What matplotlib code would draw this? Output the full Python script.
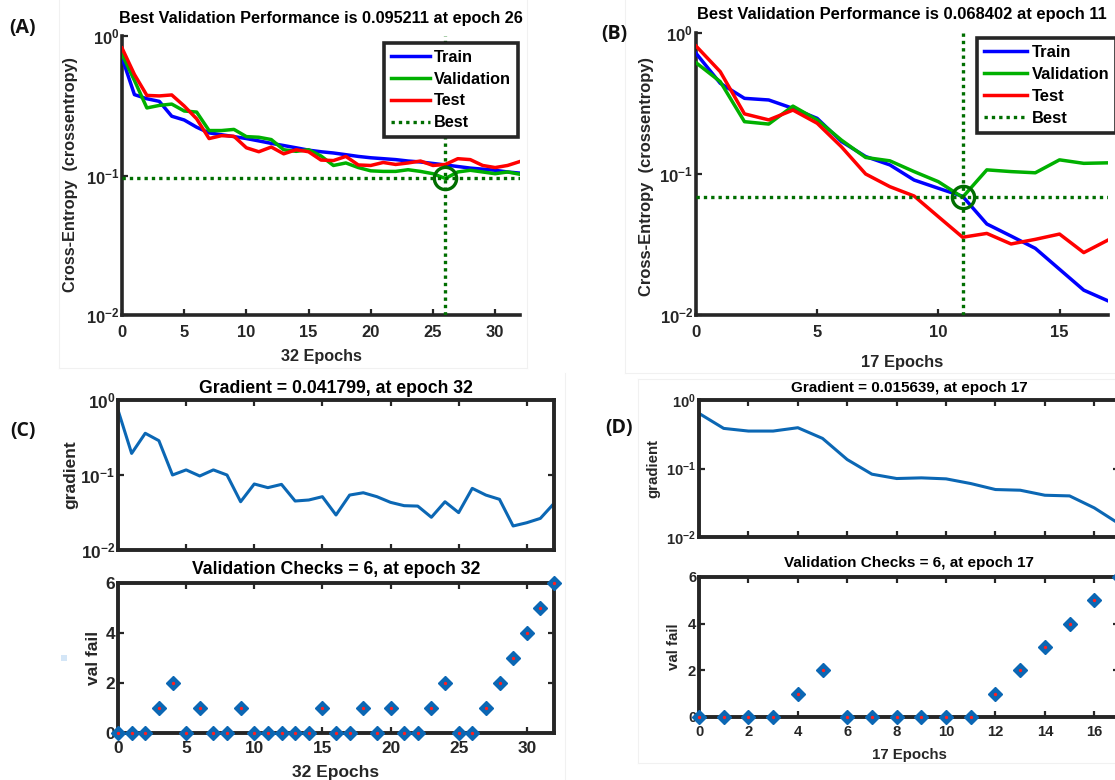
import numpy as np
import matplotlib
matplotlib.use("Agg")
import matplotlib.pyplot as plt
from matplotlib.lines import Line2D
from matplotlib.patches import Rectangle
from matplotlib.ticker import NullLocator

plt.rcParams.update({
    "font.family": ["Liberation Sans", "DejaVu Sans"],
    "font.weight": "bold",
    "axes.labelweight": "bold",
    "axes.titleweight": "bold",
    "mathtext.fontset": "custom",
    "mathtext.rm": "Liberation Sans:bold",
    "mathtext.it": "Liberation Sans:bold",
    "mathtext.bf": "Liberation Sans:bold",
    "mathtext.default": "rm",
})

# ---------------- data: run A (32 epochs) ----------------
train_a = [0.70, 0.38, 0.355, 0.34, 0.266, 0.25, 0.222, 0.202, 0.196, 0.190,
           0.184, 0.177, 0.170, 0.164, 0.158, 0.152, 0.148, 0.145, 0.141, 0.137,
           0.134, 0.132, 0.130, 0.127, 0.125, 0.122, 0.119, 0.116, 0.113, 0.111,
           0.109, 0.106, 0.104]
val_a = [0.74, 0.48, 0.305, 0.318, 0.325, 0.29, 0.285, 0.21, 0.21, 0.214,
         0.19, 0.188, 0.181, 0.153, 0.149, 0.153, 0.138, 0.118, 0.123, 0.114,
         0.108, 0.107, 0.107, 0.110, 0.107, 0.103, 0.095211, 0.106, 0.109, 0.106,
         0.103, 0.106, 0.102]
test_a = [0.82, 0.53, 0.375, 0.372, 0.378, 0.315, 0.255, 0.184, 0.193, 0.191,
          0.158, 0.148, 0.160, 0.143, 0.153, 0.148, 0.129, 0.128, 0.137, 0.119,
          0.118, 0.124, 0.120, 0.123, 0.127, 0.118, 0.120, 0.132, 0.130, 0.118,
          0.114, 0.118, 0.126]
best_epoch_a, best_val_a = 26, 0.095211

grad_c = [0.735, 0.194, 0.36, 0.287, 0.100, 0.117, 0.097, 0.117, 0.100, 0.044,
          0.0759, 0.0678, 0.075, 0.045, 0.0464, 0.0514, 0.0293, 0.054, 0.058, 0.0514,
          0.0432, 0.039, 0.0385, 0.0273, 0.044, 0.0315, 0.0664, 0.054, 0.0474, 0.0209,
          0.0231, 0.0264, 0.041799]
valfail_c = [0, 0, 0, 1, 2, 0, 1, 0, 0, 1, 0, 0, 0, 0, 0, 1, 0, 0, 1, 0,
             1, 0, 0, 1, 2, 0, 0, 1, 2, 3, 4, 5, 6]

# ---------------- data: run B (17 epochs) ----------------
train_b = [0.718, 0.44, 0.344, 0.335, 0.292, 0.248, 0.170, 0.133, 0.116, 0.0906,
           0.0792, 0.0695, 0.0442, 0.0363, 0.0297, 0.0211, 0.0150, 0.0126]
val_b = [0.616, 0.452, 0.235, 0.226, 0.303, 0.242, 0.174, 0.131, 0.124, 0.104,
         0.0882, 0.068402, 0.107, 0.104, 0.102, 0.126, 0.119, 0.120]
test_b = [0.809, 0.532, 0.267, 0.242, 0.284, 0.229, 0.156, 0.100, 0.0813, 0.0698,
          0.0498, 0.0356, 0.0379, 0.0319, 0.0344, 0.0375, 0.0277, 0.0340]
best_epoch_b, best_val_b = 11, 0.068402

grad_d = [0.638, 0.385, 0.352, 0.352, 0.394, 0.275, 0.135, 0.0826, 0.0714, 0.073,
          0.0706, 0.0603, 0.0493, 0.0482, 0.0407, 0.0398, 0.0266, 0.015639]
valfail_d = [0, 0, 0, 0, 1, 2, 0, 0, 0, 0, 0, 0, 1, 2, 3, 4, 5, 6]

log_ticks = [0.01, 0.1, 1.0]
log_labels = [r"$10^{-2}$", r"$10^{-1}$", r"$10^{0}$"]
vf_ticks = [0, 2, 4, 6]

C_TRAIN, C_VAL, C_TEST, C_BEST = "#0000ff", "#00b000", "#ff0000", "#006e00"
C_GRAD = "#0b67b4"
C_AX = "#262626"

W, H = 1115, 780
fig = plt.figure(figsize=(W / 100, H / 100), dpi=100)


def px_axes(b):
    x0, y0, x1, y1 = b
    return fig.add_axes([x0 / W, 1 - y1 / H, (x1 - x0) / W, (y1 - y0) / H])


def fx(b, x):
    return (x - b[0]) / (b[2] - b[0])


def fy(b, y):
    return (b[3] - y) / (b[3] - b[1])


def perf_panel(b, n, tr, va, te, be, bv, xticks, title, xlabel, title_y, xlabel_y,
               ylabel_x, ylabel_y, leg_anchor, fs, handle_len):
    ax = px_axes(b)
    ep = np.arange(len(tr))
    ax.plot(ep, tr, color=C_TRAIN, lw=2.5, label="Train", zorder=3)
    ax.plot(ep, va, color=C_VAL, lw=2.5, label="Validation", zorder=3)
    ax.plot(ep, te, color=C_TEST, lw=2.5, label="Test", zorder=3)
    ax.axhline(bv, color=C_BEST, lw=2.4, ls=(0, (1.0, 1.2)), label="Best", zorder=4)
    ax.axvline(be, color=C_BEST, lw=2.4, ls=(0, (1.0, 1.2)), zorder=4)
    ax.plot([be], [bv], "o", ms=16, mfc="none", mec=C_BEST, mew=2.4, zorder=5)
    ax.set_yscale("log")
    ax.set_xlim(0, n)
    ax.set_ylim(0.01, 1)
    ax.set_yticks(log_ticks)
    ax.set_yticklabels(log_labels)
    ax.yaxis.set_minor_locator(NullLocator())
    ax.set_xticks(xticks)
    for s in ("top", "right"):
        ax.spines[s].set_visible(False)
    for s in ("left", "bottom"):
        ax.spines[s].set_linewidth(2.6)
        ax.spines[s].set_color(C_AX)
    ax.tick_params(axis="both", direction="in", length=4, width=1.6, color=C_AX,
                   labelcolor=C_AX, labelsize=fs)
    ax.tick_params(axis="x", pad=7)
    ax.tick_params(axis="y", pad=2)
    ax.set_title(title, y=fy(b, title_y), va="center", pad=0, fontsize=fs - 0.2)
    ax.set_xlabel(xlabel, fontsize=fs - 0.2, color=C_AX)
    ax.xaxis.set_label_coords(fx(b, (b[0] + b[2]) / 2), fy(b, xlabel_y))
    ax.xaxis.label.set_va("center")
    ax.set_ylabel("Cross-Entropy  (crossentropy)", fontsize=fs - 0.2, color=C_AX)
    ax.yaxis.set_label_coords(fx(b, ylabel_x), fy(b, ylabel_y))
    ax.yaxis.label.set_va("center")
    leg = ax.legend(loc="upper right", bbox_to_anchor=leg_anchor, borderaxespad=0,
                    fontsize=fs - 0.2, handlelength=handle_len, handletextpad=0.25,
                    labelspacing=0.42, borderpad=0.42, fancybox=False, framealpha=1)
    leg.get_frame().set_edgecolor(C_AX)
    leg.get_frame().set_linewidth(2.6)
    leg.set_zorder(10)
    return ax


def state_panels(bg, bv, n, grad, vf, xticks_labels, xstep, gtitle, vtitle, xlabel,
                 gtitle_y, vtitle_y, xlabel_y, glab, vlab, fs):
    ep = np.arange(len(grad))
    axg = px_axes(bg)
    axg.plot(ep, grad, color=C_GRAD, lw=2.2)
    axg.set_yscale("log")
    axg.set_xlim(0, n)
    axg.set_ylim(0.01, 1)
    axg.set_yticks(log_ticks)
    axg.set_yticklabels(log_labels)
    axg.yaxis.set_minor_locator(NullLocator())
    axg.set_xticks(np.arange(0, n + 1, xstep))
    axg.set_xticklabels([])
    axg.set_title(gtitle, y=fy(bg, gtitle_y), va="center", pad=0, fontsize=fs)
    axg.set_ylabel("gradient", fontsize=fs - 0.2, color=C_AX)
    axg.yaxis.set_label_coords(fx(bg, glab[0]), fy(bg, glab[1]))
    axg.yaxis.label.set_va("center")

    axv = px_axes(bv)
    axv.plot(ep, vf, "D", ms=7.4, color=C_GRAD, mec=C_GRAD, clip_on=False, zorder=5)
    axv.plot(ep, vf, "o", ms=1.4, color="#ff2020", mec="#ff2020", clip_on=False, zorder=6)
    axv.set_xlim(0, n)
    axv.set_ylim(0, 6)
    axv.set_yticks(vf_ticks)
    axv.set_xticks(xticks_labels)
    axv.set_xticks(np.arange(0, n + 1, xstep), minor=True)
    axv.set_title(vtitle, y=fy(bv, vtitle_y), va="center", pad=0, fontsize=fs)
    axv.set_xlabel(xlabel, fontsize=fs - 0.2, color=C_AX)
    axv.xaxis.set_label_coords(fx(bv, (bv[0] + bv[2]) / 2), fy(bv, xlabel_y))
    axv.xaxis.label.set_va("center")
    axv.set_ylabel("val fail", fontsize=fs - 0.2, color=C_AX)
    axv.yaxis.set_label_coords(fx(bv, vlab[0]), fy(bv, vlab[1]))
    axv.yaxis.label.set_va("center")

    for ax in (axg, axv):
        for s in ax.spines.values():
            s.set_linewidth(2.8)
            s.set_color(C_AX)
        ax.tick_params(axis="both", which="both", direction="in", length=4, width=1.6,
                       color=C_AX, labelcolor=C_AX, labelsize=fs - 0.3,
                       top=True, right=True)
        ax.tick_params(axis="y", pad=2)
        ax.tick_params(axis="x", pad=6)
    return axg, axv


# panel A
bA = (122, 36, 520, 315)
perf_panel(bA, 32, train_a, val_a, test_a, best_epoch_a, best_val_a,
           np.arange(0, 31, 5),
           "Best Validation Performance is 0.095211 at epoch 26", "32 Epochs",
           18, 357, 71, 175, (fx(bA, 518), fy(bA, 43)), 11.9, 2.4)

# panel B
bB = (696, 33, 1108, 315)
perf_panel(bB, 17, train_b, val_b, test_b, best_epoch_b, best_val_b,
           np.arange(0, 16, 5),
           "Best Validation Performance is 0.068402 at epoch 11", "17 Epochs",
           15, 362, 646, 176, (fx(bB, 1116), fy(bB, 38)), 12.1, 2.6)

# panel C
state_panels((118, 400, 554, 550), (118, 583, 554, 733), 32, grad_c, valfail_c,
             np.arange(0, 31, 5), 5,
             "Gradient = 0.041799, at epoch 32", "Validation Checks = 6, at epoch 32",
             "32 Epochs", 388, 570, 772, (71, 475), (93, 658), 12.7)

# panel D
state_panels((699, 400, 1119, 537), (699, 577, 1119, 717), 17, grad_d, valfail_d,
             np.arange(0, 17, 2), 2,
             "Gradient = 0.015639, at epoch 17", "Validation Checks = 6, at epoch 17",
             "17 Epochs", 388, 563, 755, (653, 468), (674, 647), 11.0)

# panel letters
for txt, x, y in (("(A)", 22, 28), ("(B)", 614, 34), ("(C)", 23, 431), ("(D)", 619, 428)):
    fig.text(x / W, 1 - y / H, txt, ha="center", va="center", fontsize=14,
             family=["Open Sans", "DejaVu Sans"], weight="bold", color="#111111")

# faint frames around the exported sub-figures
frame_c = "#f1f1f1"
frames = [
    ((59, 59), (0, 368)), ((59, 527), (368, 368)), ((527, 527), (0, 368)),
    ((625, 625), (0, 373)), ((625, 1115), (373, 373)),
    ((565, 565), (373, 780)),
    ((638, 638), (379, 763)), ((638, 1115), (379, 379)), ((638, 1115), (763, 763)),
]
for xs, ys in frames:
    fig.add_artist(Line2D([x / W for x in xs], [1 - y / H for y in ys],
                          color=frame_c, lw=0.8, zorder=0))
fig.add_artist(Rectangle((61 / W, 1 - 661 / H), 6 / W, 6 / H, color="#d4e6f7", lw=0))

fig.savefig("out.png", dpi=100)
